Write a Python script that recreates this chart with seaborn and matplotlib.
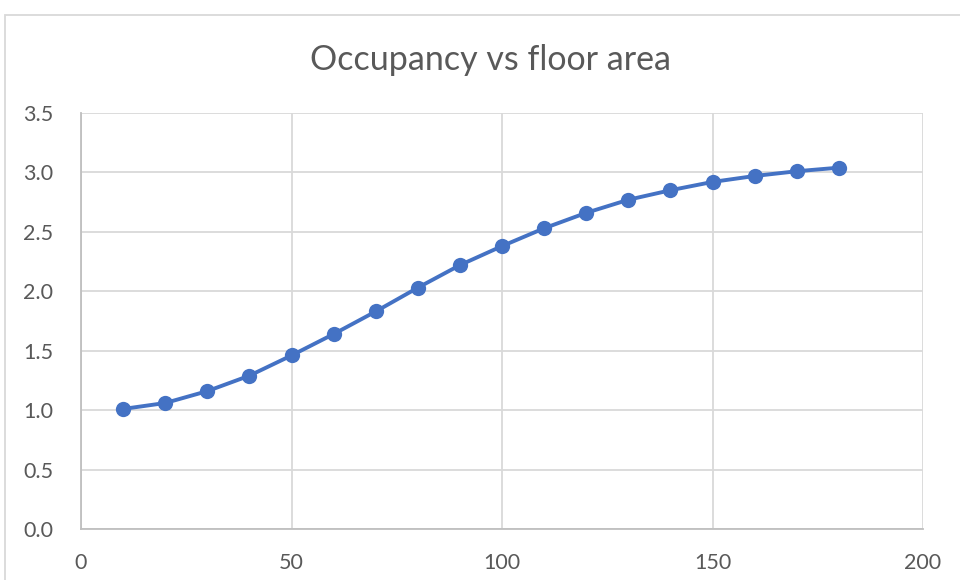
import matplotlib
matplotlib.use("Agg")
import matplotlib.pyplot as plt
import seaborn as sns
import pandas as pd
from matplotlib.patches import Rectangle
from matplotlib.ticker import FormatStrFormatter

floor_area = [10, 20, 30, 40, 50, 60, 70, 80, 90, 100, 110, 120, 130, 140, 150, 160, 170, 180]
occupancy = [1.01, 1.06, 1.16, 1.29, 1.46, 1.64, 1.83, 2.03, 2.22, 2.38, 2.53, 2.66, 2.77, 2.85, 2.92, 2.97, 3.01, 3.04]
x_ticks = [0, 50, 100, 150, 200]
y_ticks = [0.0, 0.5, 1.0, 1.5, 2.0, 2.5, 3.0, 3.5]
title = "Occupancy vs floor area"

df = pd.DataFrame({"area": floor_area, "occ": occupancy})

sns.set_theme(style="white")
plt.rcParams["font.family"] = ["Lato", "DejaVu Sans"]

fig = plt.figure(figsize=(9.6, 5.8), dpi=100)
ax = fig.add_axes([81/960, 1-529/580, (923-81)/960, (529-113)/580])

sns.lineplot(data=df, x="area", y="occ", ax=ax, color="#4472C4", linewidth=2.8,
             marker="o", markersize=11, markeredgewidth=0, zorder=3)

ax.set_xlim(0, 200)
ax.set_ylim(0, 3.5)
ax.set_xticks(x_ticks)
ax.set_yticks(y_ticks)
ax.yaxis.set_major_formatter(FormatStrFormatter("%.1f"))
ax.grid(True, color="#d9d9d9", linewidth=1.3, zorder=0)
ax.set_axisbelow(True)
for s in ["top", "right"]:
    ax.spines[s].set_visible(False)
for s in ["left", "bottom"]:
    ax.spines[s].set_color("#bfbfbf")
    ax.spines[s].set_linewidth(1.3)
ax.tick_params(axis="both", length=0, labelsize=15.5, labelcolor="#595959")
ax.tick_params(axis="x", pad=17)
ax.tick_params(axis="y", pad=20)
ax.set_xlabel("")
ax.set_ylabel("")

fig.text(491/960, 1-60/580, title, ha="center", va="center", fontsize=24.5, color="#595959")

fig.patches.append(Rectangle((5/960, -0.1), 1.2, 1-15/580+0.1, transform=fig.transFigure,
                             fill=False, edgecolor="#d9d9d9", linewidth=1.3))

fig.savefig("out.png", dpi=100, facecolor="white")
